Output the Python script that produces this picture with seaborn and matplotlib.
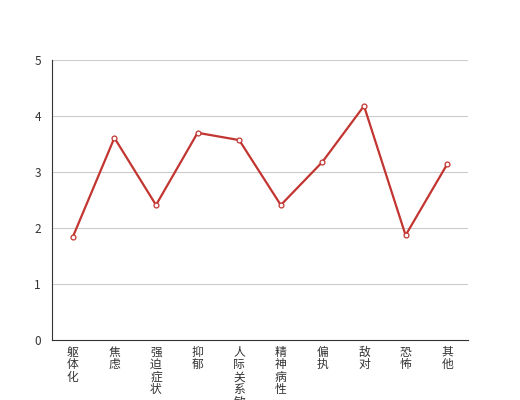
# line chart of factor scores, echarts-like look
import pandas as pd
import matplotlib
matplotlib.use('Agg')
import matplotlib.pyplot as plt
import seaborn as sns

categories = ['躯体化', '焦虑', '强迫症状', '抑郁', '人际关系敏感',
              '精神病性', '偏执', '敌对', '恐怖', '其他']
scores = [1.84, 3.61, 2.41, 3.70, 3.57, 2.41, 3.18, 4.18, 1.87, 3.14]
y_ticks = [0, 1, 2, 3, 4, 5]

df = pd.DataFrame({'pos': range(len(categories)), 'score': scores})

sns.set_style('white')
plt.rcParams['font.family'] = ['Noto Sans CJK SC', 'DejaVu Sans']

fig = plt.figure(figsize=(5.2, 4.0), dpi=100)
ax = fig.add_axes([0.1, 0.15, 0.8, 0.7])

sns.lineplot(x='pos', y='score', data=df, ax=ax, color='#c23531', linewidth=1.6,
             marker='o', markersize=3.5, markerfacecolor='white',
             markeredgecolor='#c23531', markeredgewidth=0.9)

ax.set_xlim(-0.5, len(categories) - 0.5)
ax.set_ylim(0, 5)
ax.set_yticks(y_ticks)
ax.set_yticklabels([str(v) for v in y_ticks])
for v in y_ticks[1:]:
    ax.axhline(v, color='#cccccc', linewidth=0.8, zorder=0)

ax.set_xticks(range(len(categories)))
ax.set_xticklabels(['\n'.join(c) for c in categories], linespacing=0.95,
                   va='top', fontsize=8.5, color='#333333')
ax.set_xticks([i - 0.5 for i in range(len(categories) + 1)], minor=True)
ax.tick_params(axis='x', which='major', length=0, pad=4)
ax.tick_params(axis='x', which='minor', length=5, width=0.8, color='#333333', direction='out')
ax.tick_params(axis='y', length=5, width=0.8, color='#333333', direction='out',
               labelsize=8.5, labelcolor='#333333', pad=3)

for side in ['top', 'right']:
    ax.spines[side].set_visible(False)
for side in ['left', 'bottom']:
    ax.spines[side].set_color('#333333')
    ax.spines[side].set_linewidth(0.8)

ax.set_xlabel('')
ax.set_ylabel('')
fig.savefig('out.png', dpi=100)
